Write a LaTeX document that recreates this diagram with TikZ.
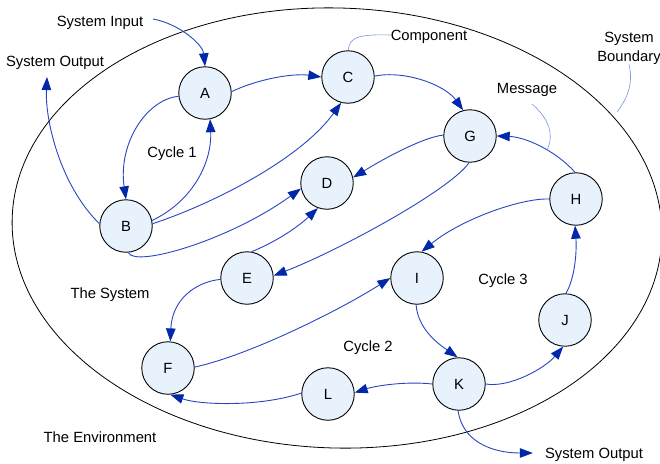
\documentclass[tikz,border=0pt]{standalone}
\usepackage{fontspec}
\setmainfont{Liberation Sans}
\usetikzlibrary{arrows.meta}
\definecolor{wire}{RGB}{40,70,195}
\definecolor{tipblue}{RGB}{0,40,170}
\definecolor{nodefill}{RGB}{232,242,252}
\definecolor{callout}{RGB}{120,150,225}
\begin{document}
\begin{tikzpicture}[x=1pt,y=-1pt,
  font=\fontsize{14.8}{19}\selectfont,
  comp/.style={circle, draw=black, line width=0.9pt, fill=nodefill,
    minimum size=52.5pt, inner sep=0pt},
  msg/.style={draw=wire, line width=0.9pt,
    -{Triangle[length=13pt,width=9.5pt,color=tipblue]}},
  note/.style={draw=callout, line width=0.6pt},
  lbl/.style={inner sep=0pt, text height=10.5pt, text depth=0pt}]
\useasboundingbox (0,0) rectangle (660,463);
\fill[white] (0,0) rectangle (660,463);

% system boundary
\draw[black, line width=0.8pt, rotate around={-1.8:(337,228)}]
  (337,228) ellipse [x radius=325pt, y radius=220pt];

% components
\node[comp] (A) at (205,93) {A};
\node[comp] (C) at (348,77) {C};
\node[comp] (G) at (470,136) {G};
\node[comp] (D) at (327,183) {D};
\node[comp] (B) at (126,226) {B};
\node[comp] (H) at (576,199) {H};
\node[comp] (E) at (247,278) {E};
\node[comp] (I) at (417,278) {I};
\node[comp] (F) at (168,368) {F};
\node[comp] (J) at (565,320) {J};
\node[comp] (K) at (459,384) {K};
\node[comp] (L) at (328,394) {L};

% labels
\node[lbl] (sysin) at (100,21) {System Input};
\node[lbl] (sysout1) at (55,61) {System Output};
\node[lbl] (compl) at (429,35) {Component};
\node[inner sep=0pt, align=center] (bound) at (629,48) {System\\Boundary};
\node[lbl] (msgl) at (527,88) {Message};
\node[lbl] (cyc1) at (172,152) {Cycle 1};
\node[lbl] (thesys) at (110,293) {The System};
\node[lbl] (env) at (100,437) {The Environment};
\node[lbl] (cyc2) at (368,346) {Cycle 2};
\node[lbl] (cyc3) at (503,279) {Cycle 3};
\node[lbl] (sysout2) at (594,453) {System Output};

\coordinate (sin) at (153,19);
\coordinate (so1) at (47,77);
\coordinate (so2) at ([xshift=-12pt]sysout2.west);

% messages
\draw[msg] (sin) .. controls (180,24) and (203,45) .. (A.north);
\draw[msg] (A.3) .. controls (258,79) and (293,73) .. (C.180);
\draw[msg] (A.187) .. controls (145,100) and (118,145) .. (B.north);
\draw[msg] (B.12) .. controls (195,200) and (212,160) .. (A.281);
\draw[msg] (B.5) .. controls (210,205) and (300,160) .. (C.255);
\draw[msg] (B.275) .. controls (135,268) and (230,240) .. (D.192);
\draw[msg] (E.80) .. controls (280,240) and (300,225) .. (D.250);
\draw[msg] (G.178) .. controls (425,137) and (390,155) .. (D.12);
\draw[msg] (C.2) .. controls (405,70) and (445,85) .. (G.105);
\draw[msg] (G.268) .. controls (450,190) and (340,250) .. (E.5);
\draw[msg] (H.92) .. controls (555,150) and (525,137) .. (G.0)
  coordinate[pos=0.4] (mhead);
\draw[msg] (H.180) .. controls (520,198) and (460,220) .. (I.80);
\draw[msg] (F.2) .. controls (250,355) and (340,310) .. (I.180);
\draw[msg] (E.183) .. controls (195,282) and (172,300) .. (F.85);
\draw[msg] (L.178) .. controls (260,407) and (200,405) .. (F.275);
\draw[msg] (I.268) .. controls (418,330) and (440,345) .. (K.93);
\draw[msg] (K.180) .. controls (405,381) and (375,386) .. (L.3);
\draw[msg] (K.0) .. controls (510,388) and (545,368) .. (J.266);
\draw[msg] (J.88) .. controls (574,280) and (577,255) .. (H.268);
\draw[msg] (K.268) .. controls (462,440) and (490,453) .. (so2);
\draw[msg] (B.175) .. controls (60,185) and (45,120) .. (so1);

% callouts
\coordinate (mtail) at (532,104);
\coordinate (bpt) at (617,112);
\draw[note] (C.north) .. controls (350,38) and (356,34) .. (compl.west);
\draw[note] (mtail) .. controls (545,115) and (556,132) .. (mhead);
\draw[note] (bound.south) .. controls (634,85) and (626,100) .. (bpt);
\end{tikzpicture}
\end{document}
